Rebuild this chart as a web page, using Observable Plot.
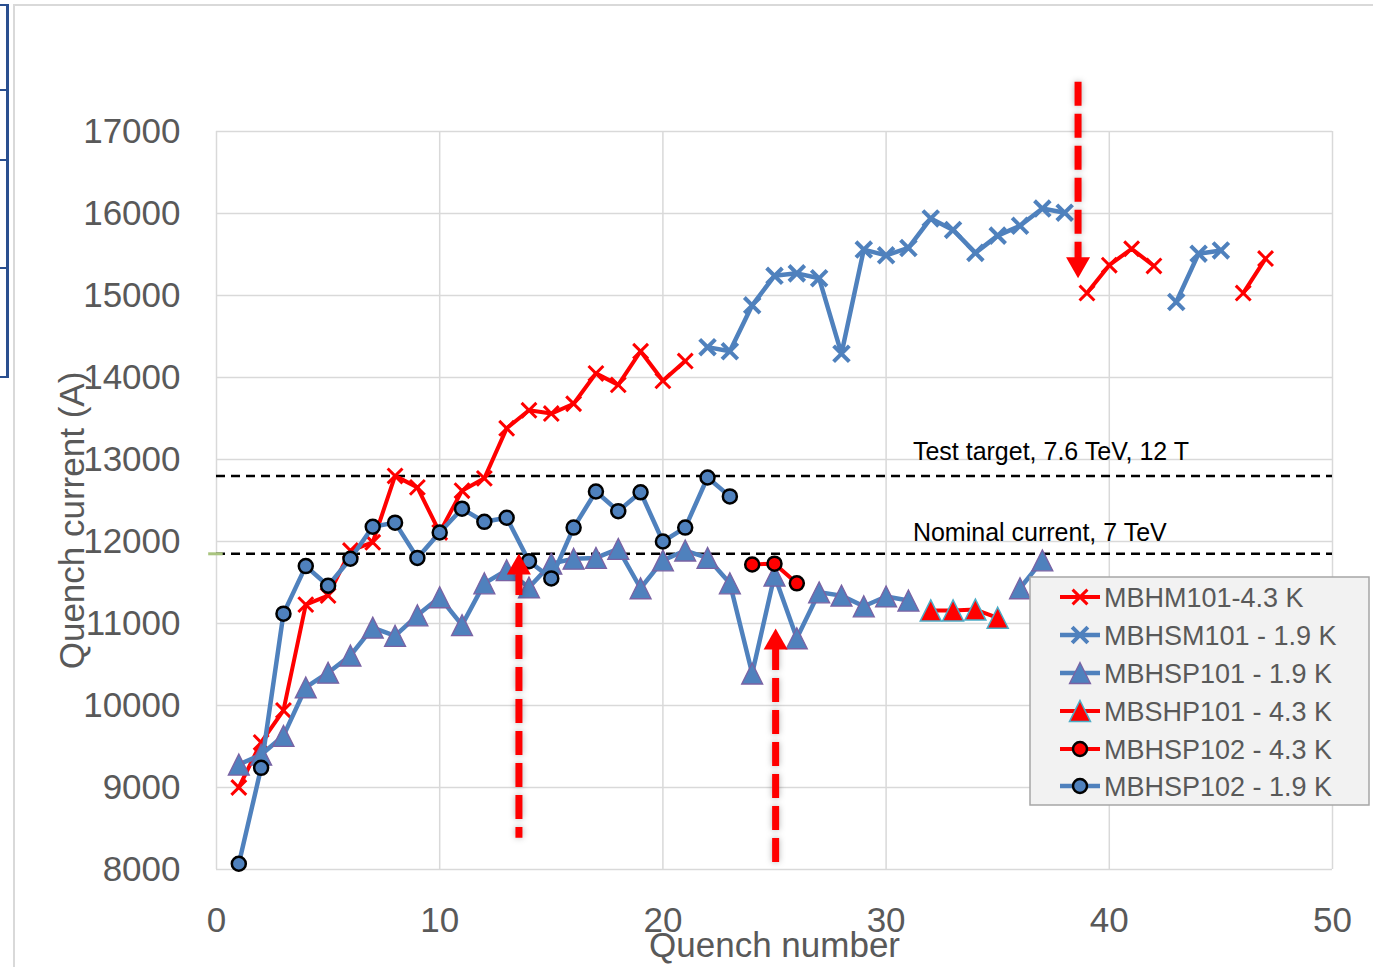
<!DOCTYPE html>
<html>
<head>
<meta charset="utf-8">
<script src="https://cdn.jsdelivr.net/npm/d3@7"></script>
<script src="https://cdn.jsdelivr.net/npm/@observablehq/plot@0.6"></script>
<style>
html, body { margin: 0; padding: 0; background: #fff; }
#wrap { position: relative; width: 1373px; height: 967px; overflow: hidden; }
#wrap > svg { position: absolute; left: 0; top: 0; }
.deco { position: absolute; }
</style>
</head>
<body>
<div id="wrap">
  <div class="deco" style="left:13px;top:4px;width:2px;height:963px;background:#d9d9d9"></div>
  <div class="deco" style="left:13px;top:4px;width:1360px;height:2px;background:#d9d9d9"></div>
  <div class="deco" style="left:6px;top:4px;width:2.5px;height:374px;background:#2a4f8f"></div>
  <div class="deco" style="left:0;top:4px;width:8px;height:2px;background:#2a4f8f"></div>
  <div class="deco" style="left:0;top:89px;width:8px;height:2px;background:#2a4f8f"></div>
  <div class="deco" style="left:0;top:159px;width:8px;height:2px;background:#2a4f8f"></div>
  <div class="deco" style="left:0;top:267px;width:8px;height:2px;background:#2a4f8f"></div>
  <div class="deco" style="left:0;top:376px;width:8px;height:2px;background:#2a4f8f"></div>
</div>
<script>
// ---------- data ----------
const xTicks = [0, 10, 20, 30, 40, 50];
const yTicks = [8000, 9000, 10000, 11000, 12000, 13000, 14000, 15000, 16000, 17000];

const seriesNames = ["MBHM101-4.3 K", "MBHSM101 - 1.9 K", "MBHSP101 - 1.9 K",
                     "MBSHP101 - 4.3 K", "MBHSP102 - 4.3 K", "MBHSP102 - 1.9 K"];

// null value = break in the line
const mbhm101Q = [1,2,3,4,5,6,7,8,9,10,11,12,13,14,15,16,17,18,19,20,21,22,39,40,41,42,43,46,47];
const mbhm101V = [9000,9550,9940,11230,11340,11890,11990,12800,12660,12110,12620,12770,13380,13600,13560,13680,14050,13910,14320,13960,14200,null,15030,15370,15570,15360,null,15030,15450];

const mbhsm101Q = [22,23,24,25,26,27,28,29,30,31,32,33,34,35,36,37,38,39,43,44,45];
const mbhsm101V = [14370,14320,14880,15240,15270,15210,14290,15560,15490,15580,15940,15800,15520,15730,15850,16060,16010,null,14920,15510,15550];

const mbhsp101Q = [1,2,3,4,5,6,7,8,9,10,11,12,13,14,15,16,17,18,19,20,21,22,23,24,25,26,27,28,29,30,31,32,36,37];
const mbhsp101V = [9280,9400,9630,10220,10400,10610,10950,10850,11100,11320,10980,11490,11650,11440,11730,11790,11800,11910,11430,11770,11890,11800,11490,10390,11585,10820,11380,11340,11210,11330,11280,null,11430,11770];

const mbshp101Q = [32,33,34,35];
const mbshp101V = [11160,11160,11170,11070];

const mbhsp102wQ = [24,25,26];
const mbhsp102wV = [11720,11730,11490];

const mbhsp102cQ = [1,2,3,4,5,6,7,8,9,10,11,12,13,14,15,16,17,18,19,20,21,22,23];
const mbhsp102cV = [8070,9240,11120,11700,11460,11790,12180,12230,11800,12110,12400,12240,12290,11760,11550,12170,12610,12370,12600,12000,12170,12780,12550];

const refValues = [12800, 11850];
const refLabels = ["Test target, 7.6 TeV, 12 T", "Nominal current, 7 TeV"];
const refLabelX = [31.2, 31.2];

const arrowX = [13.55, 25.05, 38.6];
const arrowTail = [8380, 8015, 17600];
const arrowTip = [11855, 10940, 15210];

// ---------- styles ----------
const BLUE = "#4f81bd", RED = "#ff0000";
const triSym = {draw(ctx, size) { const s = Math.sqrt(size / Math.PI); ctx.moveTo(0, -s); ctx.lineTo(s, s); ctx.lineTo(-s, s); ctx.closePath(); }};
const headSym = {draw(ctx) { ctx.moveTo(0, 0); ctx.lineTo(12, 21); ctx.lineTo(-12, 21); ctx.closePath(); }};

const series = [
  {q: mbhm101Q, v: mbhm101V, line: RED, lw: 4, symbol: "times", r: 6.8, fill: "none", stroke: RED, sw: 3},
  {q: mbhsm101Q, v: mbhsm101V, line: BLUE, lw: 4.5, symbol: "times", r: 7.2, fill: "none", stroke: BLUE, sw: 4},
  {q: mbhsp101Q, v: mbhsp101V, line: BLUE, lw: 4.5, symbol: triSym, r: 10.5, fill: BLUE, stroke: "#7a62a3", sw: 1.3},
  {q: mbshp101Q, v: mbshp101V, line: RED, lw: 4, symbol: triSym, r: 10.5, fill: RED, stroke: "#4bacc6", sw: 1.5},
  {q: mbhsp102wQ, v: mbhsp102wV, line: RED, lw: 4, symbol: "circle", r: 7, fill: RED, stroke: "#000", sw: 2.5},
  {q: mbhsp102cQ, v: mbhsp102cV, line: BLUE, lw: 4.5, symbol: "circle", r: 7, fill: BLUE, stroke: "#000", sw: 2.5}
].map((s, i) => ({...s, name: seriesNames[i], rows: s.q.map((q, j) => ({q, v: s.v[j]}))}));

const seriesMarks = series.flatMap(s => [
  Plot.line(s.rows, {x: "q", y: "v", stroke: s.line, strokeWidth: s.lw, strokeLinejoin: "round", strokeLinecap: "round"}),
  Plot.dot(s.rows.filter(d => d.v != null), {x: "q", y: "v", symbol: s.symbol, r: s.r, fill: s.fill, stroke: s.stroke, strokeWidth: s.sw})
]);

const arrows = arrowX.map((x, i) => ({x, tail: arrowTail[i], tip: arrowTip[i], up: arrowTip[i] > arrowTail[i]}));
const refs = refValues.map((v, i) => ({v, label: refLabels[i], x: refLabelX[i]}));

const FONT = '"Liberation Sans", Arial, sans-serif';

const plot = Plot.plot({
  width: 1373, height: 967,
  marginLeft: 216, marginRight: 41, marginTop: 131, marginBottom: 98,
  x: {domain: [0, 50]},
  y: {domain: [8000, 17000]},
  style: {fontFamily: FONT, color: "#595959", background: "transparent", overflow: "visible"},
  marks: [
    Plot.gridX(xTicks, {stroke: "#d9d9d9", strokeOpacity: 1, strokeWidth: 1.5}),
    Plot.gridY(yTicks, {stroke: "#d9d9d9", strokeOpacity: 1, strokeWidth: 1.5}),
    Plot.axisX(xTicks, {tickSize: 0, tickPadding: 38, fontSize: 35, label: null, tickFormat: d => String(d)}),
    Plot.axisY(yTicks, {tickSize: 0, tickPadding: 36, fontSize: 35, label: null, tickFormat: d => String(d)}),
    Plot.text(["Quench number"], {text: d => d, frameAnchor: "bottom", dy: 87, fontSize: 35, fill: "#595959"}),
    Plot.text(["Quench current (A)"], {text: d => d, frameAnchor: "left", textAnchor: "middle", lineAnchor: "middle", dx: -144, dy: 20, rotate: -90, fontSize: 35, fill: "#595959"}),
    Plot.ruleY(refs, {y: "v", stroke: "#000", strokeWidth: 2.5, strokeDasharray: "9,6"}),
    Plot.ruleY([refValues[1]], {x1: -0.35, x2: 0.3, stroke: "#a9c47f", strokeWidth: 3}),
    Plot.text(refs.slice(0, 1), {x: "x", y: "v", text: "label", dy: -24, textAnchor: "start", fontSize: 25, fill: "#000"}),
    Plot.text(refs.slice(1), {x: "x", y: "v", text: "label", dy: -21, textAnchor: "start", fontSize: 25, fill: "#000"}),
    ...seriesMarks,
    Plot.ruleX(arrows.filter(d => d.up), {x: "x", y1: "tip", y2: "tail", insetTop: 18, stroke: RED, strokeWidth: 7, strokeDasharray: "24,8"}),
    Plot.ruleX(arrows.filter(d => !d.up), {x: "x", y1: "tail", y2: "tip", insetBottom: 18, stroke: RED, strokeWidth: 7, strokeDasharray: "24,8"}),
    Plot.dot(arrows, {x: "x", y: "tip", symbol: headSym, r: 10, fill: RED, stroke: "none", rotate: d => d.up ? 0 : 180})
  ]
});
document.getElementById("wrap").appendChild(plot);
d3.select(plot).selectAll('g[stroke-width="7"]').style("filter", "drop-shadow(0px 0px 3px rgba(0,0,0,0.3))");

// ---------- legend ----------
const L = {x: 1030, y: 577, w: 339, h: 228, rows: [20, 58, 96, 134, 172, 209]};
const leg = d3.select("#wrap").append("svg")
  .attr("width", L.w + 4).attr("height", L.h + 4)
  .style("left", (L.x - 1) + "px").style("top", (L.y - 1) + "px");
leg.append("rect").attr("x", 1).attr("y", 1).attr("width", L.w).attr("height", L.h)
  .attr("fill", "#f2f2f2").attr("stroke", "#a6a6a6").attr("stroke-width", 1.5);
series.forEach((s, i) => {
  const g = leg.append("g").attr("transform", `translate(1,${L.rows[i] + 1})`);
  g.append("line").attr("x1", 30).attr("x2", 70).attr("stroke", s.line).attr("stroke-width", s.lw);
  const sym = s.symbol === "times" ? d3.symbolTimes : s.symbol === "circle" ? d3.symbolCircle : s.symbol;
  g.append("path").attr("transform", "translate(50,0)")
    .attr("d", d3.symbol(sym, Math.PI * s.r * s.r)())
    .attr("fill", s.fill).attr("stroke", s.stroke).attr("stroke-width", s.sw);
  g.append("text").attr("x", 74).attr("y", 9.7).text(s.name)
    .attr("font-family", FONT).attr("font-size", 27).attr("fill", "#595959");
});
</script>
</body>
</html>
